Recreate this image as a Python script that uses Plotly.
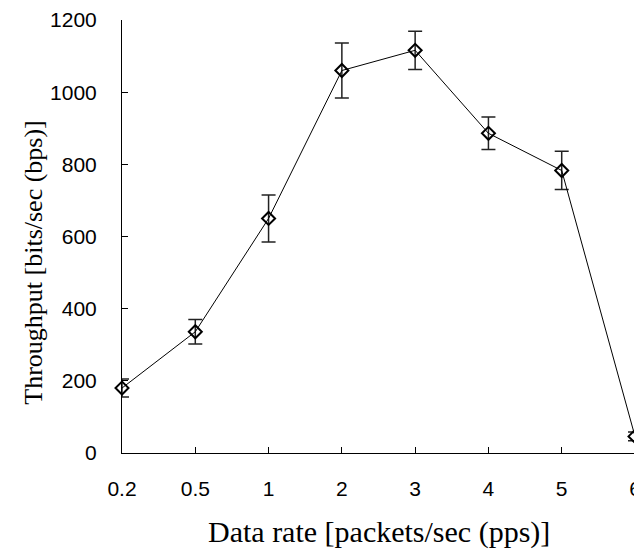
import plotly.graph_objects as go

rates = ["0.2", "0.5", "1", "2", "3", "4", "5", "6"]
throughput = [180, 336, 650, 1060, 1116, 886, 783, 46]
err = [25, 34, 65, 76, 53, 45, 53, 12]
y_ticks = [0, 200, 400, 600, 800, 1000, 1200]
x_title = "Data rate [packets/sec (pps)]"
y_title = "Throughput [bits/sec (bps)]"

fig = go.Figure()
fig.add_trace(go.Scatter(
    x=rates, y=throughput,
    mode="lines+markers",
    line=dict(color="black", width=1),
    marker=dict(symbol="diamond-open", size=10, color="black", line=dict(width=2, color="black")),
    error_y=dict(type="data", array=err, visible=True, color="#222222", thickness=1.5, width=7),
    cliponaxis=False,
    showlegend=False,
))

serif = "Liberation Serif, Times New Roman, serif"
# page body has an 8px default margin, so the figure is 8px smaller
fig.update_layout(
    width=634, height=542,
    margin=dict(l=114, r=7, t=12, b=97, autoexpand=False),
    paper_bgcolor="white", plot_bgcolor="white",
    font=dict(family="Liberation Sans, Arial, sans-serif", size=21, color="black"),
    annotations=[
        dict(text=x_title, xref="paper", yref="paper", x=0.5, y=-0.182,
             xanchor="center", yanchor="middle", showarrow=False,
             font=dict(family=serif, size=30)),
        dict(text=y_title, xref="paper", yref="paper", x=-0.173, y=0.44,
             xanchor="center", yanchor="middle", showarrow=False, textangle=-90,
             font=dict(family=serif, size=26)),
    ],
)
fig.update_xaxes(
    type="category", range=[0, 7], automargin=False,
    showline=True, linecolor="black", linewidth=1,
    ticks="inside", ticklen=6, tickcolor="black",
    showgrid=False, zeroline=False,
    ticklabelstandoff=17,
    ticklabeloverflow="allow",
)
fig.update_yaxes(
    range=[0, 1200], tickvals=y_ticks, automargin=False,
    showline=True, linecolor="black", linewidth=1,
    ticks="inside", ticklen=6, tickcolor="black",
    showgrid=False, zeroline=False,
    ticklabelstandoff=20,
)
fig.write_html("out.html")
